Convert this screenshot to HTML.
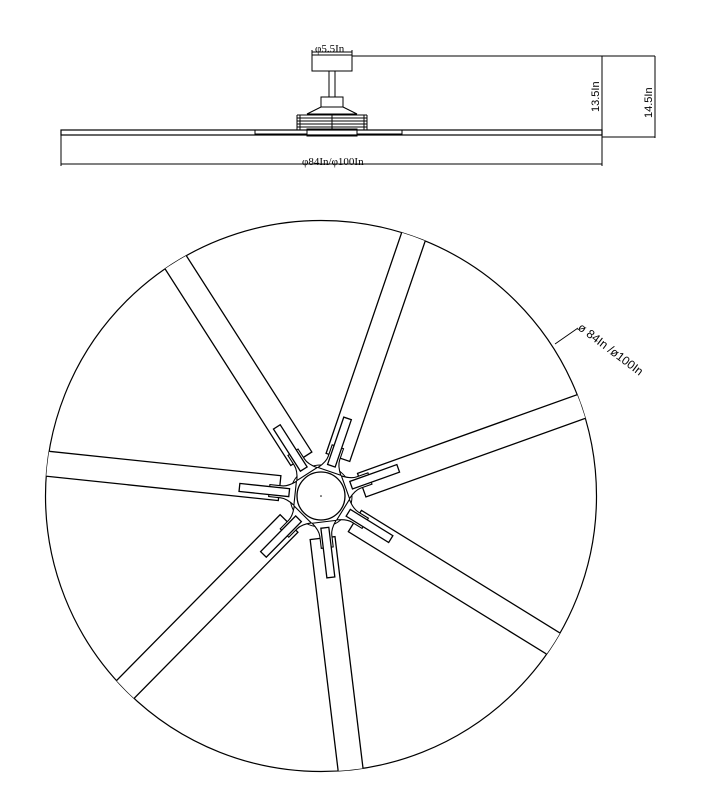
<!DOCTYPE html>
<html><head><style>
html,body{margin:0;padding:0;background:#fff;}
svg{display:block;}
text{font-family:"Liberation Serif",serif;}
</style></head><body>
<svg width="705" height="806" viewBox="0 0 705 806" xmlns="http://www.w3.org/2000/svg">
<defs>
<clipPath id="cc"><circle cx="321" cy="496" r="275.5"/></clipPath>
<g id="blade">
  <rect x="42" y="-9" width="253" height="25" fill="#fff" stroke="#000" stroke-width="1.3"/>
</g>
<g id="arm">
  <path d="M26,-12 Q34,-6 40,-6 L52,-6 L52,6 L40,6 Q34,6 26,12 Z" fill="#fff" stroke="#000" stroke-width="1.1"/>
  <rect x="32" y="-4" width="50" height="8" fill="#fff" stroke="#000" stroke-width="1.3"/>
</g>
</defs>

<!-- top side view -->
<g stroke="#000" fill="none" stroke-width="1">
  <rect x="312" y="55" width="40" height="16" fill="#fff"/>
  <line x1="312" y1="55" x2="312" y2="50"/><line x1="352" y1="55" x2="352" y2="50"/>
  <line x1="312" y1="52" x2="352" y2="52"/>
  <rect x="329" y="71" width="6" height="26"/>
  <rect x="321" y="97" width="22" height="10"/>
  <path d="M321,107 L307,114 L357,114 L343,107"/>
  <path d="M297,115h70M297,118h70M297,121h70M297,124h70M297,127h70M297,130h70"/>
  <path d="M297,115v15M367,115v15M300,115v15M364,115v15"/>
  <line x1="332" y1="114" x2="332" y2="130"/>
  <rect x="307" y="129" width="50" height="7" fill="#fff"/>
  <rect x="61" y="130" width="541" height="5" fill="#fff" stroke-width="1.2"/>
  <rect x="255" y="130" width="52" height="4"/>
  <rect x="357" y="130" width="45" height="4"/>
  <line x1="61" y1="135" x2="61" y2="166"/>
  <line x1="61" y1="164" x2="602" y2="164"/>
  <line x1="352" y1="56" x2="655" y2="56"/>
  <line x1="602" y1="56" x2="602" y2="166"/>
  <line x1="602" y1="137" x2="655" y2="137"/>
  <line x1="655" y1="56" x2="655" y2="138"/>
</g>
<text x="315" y="52" font-size="11">φ5.5In</text>
<text x="302" y="165" font-size="11">φ84In/φ100In</text>
<text transform="translate(599,112) rotate(-90)" font-size="11" style="font-family:'Liberation Sans',sans-serif">13.5In</text>
<text transform="translate(652,118) rotate(-90)" font-size="11" style="font-family:'Liberation Sans',sans-serif">14.5In</text>

<!-- big circle -->
<circle cx="321" cy="496" r="275.5" fill="#fff" stroke="#000" stroke-width="1.2"/>
<g clip-path="url(#cc)">
  <g transform="translate(321,496)">
    <use href="#blade" transform="rotate(186)"/>
    <use href="#blade" transform="rotate(237.4)"/>
    <use href="#blade" transform="rotate(288.9)"/>
    <use href="#blade" transform="rotate(340.3)"/>
    <use href="#blade" transform="rotate(31.7)"/>
    <use href="#blade" transform="rotate(83.1)"/>
    <use href="#blade" transform="rotate(134.6)"/>
  </g>
</g>
<g transform="translate(321,496)">
  <circle r="31" fill="#fff" stroke="#000" stroke-width="1"/>
  <use href="#arm" transform="rotate(186)"/>
  <use href="#arm" transform="rotate(237.4)"/>
  <use href="#arm" transform="rotate(288.9)"/>
  <use href="#arm" transform="rotate(340.3)"/>
  <use href="#arm" transform="rotate(31.7)"/>
  <use href="#arm" transform="rotate(83.1)"/>
  <use href="#arm" transform="rotate(134.6)"/>
  <circle r="24" fill="#fff" stroke="#000" stroke-width="1.3"/>
  <circle r="0.8" fill="#000"/>
</g>

<line x1="555" y1="344" x2="578" y2="328" stroke="#000" stroke-width="1"/>
<text transform="translate(577,329) rotate(37)" font-size="12" style="font-family:'Liberation Sans',sans-serif">ø 84In /ø100In</text>
</svg>
</body></html>
